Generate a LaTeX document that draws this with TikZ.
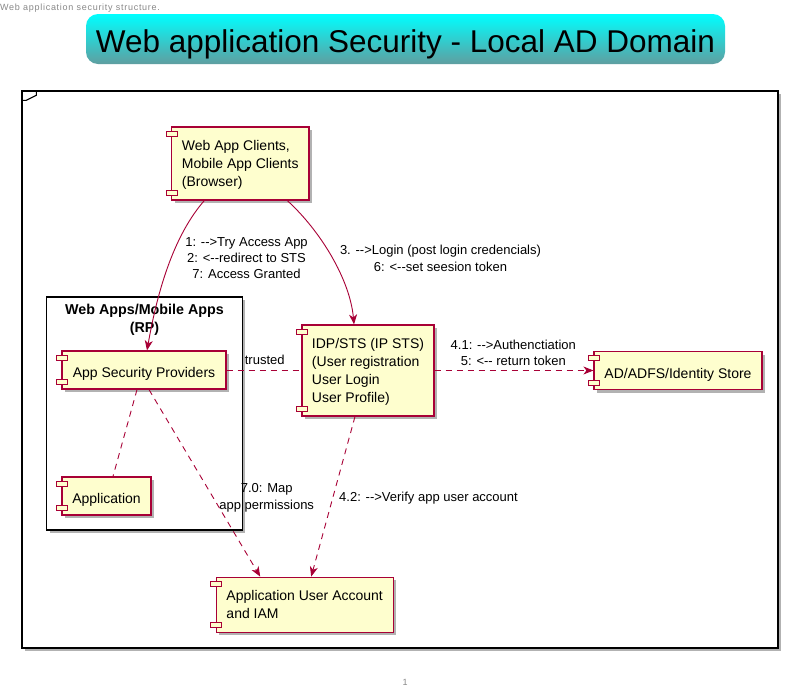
\documentclass[tikz,border=0pt]{standalone}
\usepackage{fontspec}
\setmainfont{Liberation Sans}
\newfontfamily\capfont{Liberation Sans}[LetterSpace=8]
\usetikzlibrary{arrows.meta,shadows}
\definecolor{border}{HTML}{A80036}
\definecolor{compfill}{HTML}{FEFECE}
\definecolor{titletop}{HTML}{00FFFF}
\definecolor{titlebot}{HTML}{5F9EA0}
\definecolor{capgray}{HTML}{888888}
\begin{document}
\begin{tikzpicture}[x=1pt,y=-1pt,
  comp/.style={draw=border, fill=compfill, line width=1.2pt, align=left,
    inner xsep=10pt, inner ysep=0pt, text depth=0pt, font=\fontsize{14}{18}\selectfont,
    execute at begin node={\rule{0pt}{15pt}},
    drop shadow={shadow xshift=3pt,shadow yshift=-3pt,opacity=0.3,fill=black}},
  icon/.style={draw=border, fill=compfill, line width=1pt},
  lbl/.style={font=\fontsize{13}{16.4}\selectfont, align=center, inner sep=0pt},
  link/.style={draw=border, line width=0.9pt},
  tip/.style={-{Stealth[length=10pt,width=8pt,inset=3pt]}},
  dsh/.style={dash pattern=on 6pt off 5pt}
]
\useasboundingbox (0,0) rectangle (788,697);
\fill[white] (0,0) rectangle (788,697);

% caption and page number
\node[anchor=base west, inner sep=0pt, text=capgray, font=\capfont\fontsize{9}{10}\selectfont] (cap) at (0,10) {Web application security structure.};
\node[inner sep=0pt, text=capgray, font=\fontsize{9}{10}\selectfont] (pg) at (405,682) {1};

% title
\node[rounded corners=12pt, top color=titletop, bottom color=titlebot,
  minimum width=639pt, minimum height=50pt, inner sep=0pt] (title) at (405.5,39) {};
\node[anchor=base, inner sep=0pt, font=\fontsize{31.5}{34}\selectfont] (titletext) at ([yshift=-13.5pt]title.center) {Web application Security - Local AD Domain};

% frame
\node[draw=black, fill=white, line width=1.4pt, minimum width=756pt, minimum height=557pt,
  drop shadow={shadow xshift=3pt,shadow yshift=-3pt,opacity=0.3,fill=black}] (frame) at (400,369.5) {};
\draw[line width=1.1pt] ([xshift=15pt]frame.north west) -- ++(0,5) -- ++(-10,5) -- ++(-5,0);

% package
\node[draw=black, fill=white, line width=1.4pt, minimum width=195.6pt, minimum height=233.3pt,
  drop shadow={shadow xshift=3pt,shadow yshift=-3pt,opacity=0.3,fill=black}] (pkg) at (144.5,413.5) {};
\node[font=\bfseries\fontsize{14.3}{18}\selectfont, align=center, inner sep=0pt] (pkgt) at (144.5,320) {Web Apps/Mobile Apps\\(RP)};

% components
\node[comp, minimum width=137.3pt, minimum height=73pt] (wac) at (240.3,163.5) {Web App Clients,\\Mobile App Clients\\(Browser)};
\node[comp, minimum width=164pt, minimum height=38pt] (asp) at (144,370) {App Security Providers};
\node[comp, minimum width=89pt, minimum height=38pt] (app) at (106.5,496) {Application};
\node[comp, minimum width=130pt, minimum height=91pt] (idp) at (368,370.5) {IDP/STS (IP STS)\\(User registration\\User Login\\User Profile)};
\node[comp, minimum width=168pt, minimum height=38pt] (ad) at (678,370.5) {AD/ADFS/Identity Store};
\node[comp, minimum width=177pt, minimum height=55pt] (aua) at (304.7,604.7) {Application User Account\\and IAM};

\foreach \n in {wac,asp,app,idp,ad,aua}{
  \draw[icon] ([shift={(-5,5)}]\n.north west) rectangle ++(11,5);
  \draw[icon] ([shift={(-5,-5)}]\n.south west) rectangle ++(11,-5);
}

% connectors
\draw[link,tip] ([xshift=-36pt]wac.south) .. controls +(-35,40) and +(8,-45) .. ([xshift=3pt]asp.north);
\draw[link,tip] ([xshift=47pt]wac.south) .. controls +(33,30) and +(-4,-45) .. ([xshift=-14pt]idp.north);
\draw[link,dsh] (asp.east) -- (asp.east -| idp.west);
\draw[link,dsh,tip] (idp.east |- ad.west) -- (ad.west);
\draw[link,dsh] ([xshift=-7pt]asp.south) -- ([xshift=6.5pt]app.north);
\draw[link,dsh,tip] ([xshift=5pt]asp.south) -- ([xshift=-44.5pt]aua.north);
\draw[link,dsh,tip] ([xshift=-13pt]idp.south) -- ([xshift=6.5pt]aua.north);

% labels
\node[lbl] (l1) at (246.5,258) {1: -{}->Try Access App\\2: <-{}-redirect to STS\\7: Access Granted};
\node[lbl] (l3) at (440.5,258.5) {3. -{}->Login (post login credencials)\\6: <-{}-set seesion token};
\node[lbl] (ltr) at (264.7,360) {trusted};
\node[lbl] (l41) at (513.3,353) {4.1: -{}->Authenctiation\\5: <-{}- return token};
\node[lbl] (l70) at (266.7,498) {7.0: Map\\app permissions};
\node[lbl, anchor=west] (l42) at (339,498) {4.2: -{}->Verify app user account};
\end{tikzpicture}
\end{document}
